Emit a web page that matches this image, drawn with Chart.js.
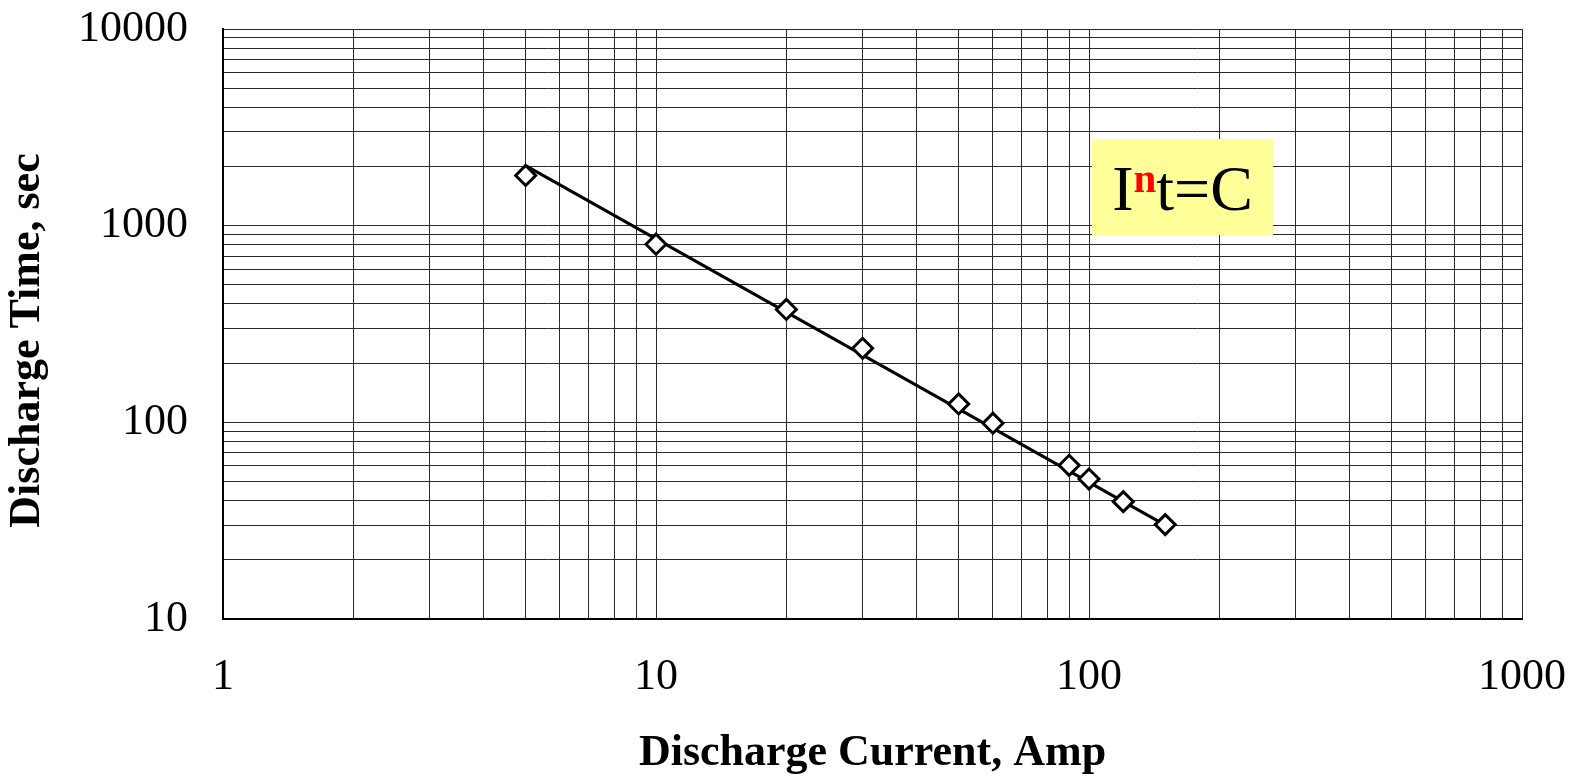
<!DOCTYPE html>
<html>
<head>
<meta charset="utf-8">
<script src="https://cdn.jsdelivr.net/npm/chart.js@4/dist/chart.umd.min.js"></script>
<style>
  html, body { margin: 0; padding: 0; background: #fff; }
  #wrap { width: 1573px; height: 778px; position: relative; }
</style>
</head>
<body>
<div id="wrap"><canvas id="c"></canvas></div>
<script>
// ---- data ----
const currents = [5, 10, 20, 30, 50, 60, 90, 100, 120, 150];          // Amp
const times    = [1800, 805, 375, 238, 124, 99, 60.5, 51.5, 39.5, 30.2]; // sec
// power-law trend line end points (I^n t = C)
const trendCurrents = [5, 150];
const trendTimes    = [2020, 30];

// axis ticks
const xMajorTicks = [1, 10, 100, 1000];
const yMajorTicks = [10, 100, 1000, 10000];
const minorMultipliers = [2, 3, 4, 5, 6, 7, 8, 9];
const xTickLabels = ['1', '10', '100', '1000'];
const yTickLabels = ['10', '100', '1000', '10000'];

const xTitle = 'Discharge Current, Amp';
const yTitle = 'Discharge Time, sec   ';

// annotation box (data coordinates) and its text
const noteBox = { xMin: 101.6, xMax: 266, yMin: 896, yMax: 2758 };
const noteParts = [
  { text: 'I', color: '#000000', font: '64px "Liberation Serif"', rise: 0 },
  { text: 'n', color: '#FF0000', font: 'bold 41px "Liberation Serif"', rise: 18 },
  { text: 't=C', color: '#000000', font: '64px "Liberation Serif"', rise: 0 }
];

function gridValues(majors) {
  const vals = [];
  for (let i = 0; i < majors.length; i++) {
    vals.push(majors[i]);
    if (i < majors.length - 1) {
      minorMultipliers.forEach(m => vals.push(majors[i] * m));
    }
  }
  return vals;
}
const xGrid = gridValues(xMajorTicks);
const yGrid = gridValues(yMajorTicks);

const noteBoxPlugin = {
  id: 'noteBox',
  afterDatasetsDraw(chart) {
    const { ctx, scales: { x, y } } = chart;
    const left = x.getPixelForValue(noteBox.xMin);
    const right = x.getPixelForValue(noteBox.xMax);
    const top = y.getPixelForValue(noteBox.yMax);
    const bottom = y.getPixelForValue(noteBox.yMin);
    ctx.save();
    ctx.fillStyle = '#FFFF99';
    ctx.fillRect(left, top, right - left, bottom - top);
    let total = 0;
    const widths = noteParts.map(p => { ctx.font = p.font; const w = ctx.measureText(p.text).width; total += w; return w; });
    let cx = (left + right) / 2 - total / 2;
    const baseline = top + (bottom - top) * 0.74;
    ctx.textBaseline = 'alphabetic';
    ctx.textAlign = 'left';
    noteParts.forEach((p, i) => {
      ctx.font = p.font;
      ctx.fillStyle = p.color;
      ctx.fillText(p.text, cx, baseline - p.rise);
      cx += widths[i];
    });
    ctx.restore();
  }
};

Chart.defaults.font.family = '"Liberation Serif", "Times New Roman", serif';
Chart.defaults.color = '#000';

new Chart(document.getElementById('c'), {
  type: 'scatter',
  data: {
    datasets: [
      {
        label: 'Measured',
        data: currents.map((c, i) => ({ x: c, y: times[i] })),
        showLine: false,
        pointStyle: 'rectRot',
        pointRadius: 10,
        pointHoverRadius: 10,
        pointBorderWidth: 3,
        pointBackgroundColor: '#ffffff',
        pointBorderColor: '#000000',
        order: 0
      },
      {
        label: 'Trend',
        type: 'line',
        data: trendCurrents.map((c, i) => ({ x: c, y: trendTimes[i] })),
        borderColor: '#000000',
        borderWidth: 3,
        pointRadius: 0,
        fill: false,
        tension: 0,
        order: 1
      }
    ]
  },
  options: {
    responsive: true,
    maintainAspectRatio: false,
    animation: false,
    layout: { padding: { top: 29, right: 51, left: 0, bottom: 0 } },
    plugins: { legend: { display: false }, tooltip: { enabled: false } },
    scales: {
      x: {
        type: 'logarithmic',
        min: 1, max: 1000,
        afterBuildTicks: s => { s.ticks = xGrid.map(v => ({ value: v })); },
        afterFit: s => { s.height = 159; s.paddingLeft = 0; s.paddingRight = 0; },
        grid: { color: '#2a2a2a', lineWidth: 1, drawTicks: false },
        border: { display: true, color: '#000000', width: 2 },
        ticks: {
          autoSkip: false, maxRotation: 0, minRotation: 0,
          padding: 32,
          font: { size: 44 },
          callback: v => { const i = xMajorTicks.indexOf(v); return i >= 0 ? xTickLabels[i] : ''; }
        },
        title: {
          display: true, text: xTitle,
          font: { size: 44, weight: 'bold', lineHeight: 1 },
          padding: { top: 0, bottom: 2 }
        }
      },
      y: {
        type: 'logarithmic',
        min: 10, max: 10000,
        afterBuildTicks: s => { s.ticks = yGrid.map(v => ({ value: v })); },
        afterFit: s => { s.width = 223; s.paddingTop = 0; s.paddingBottom = 0; },
        grid: { color: '#2a2a2a', lineWidth: 1, drawTicks: false },
        border: { display: true, color: '#000000', width: 2 },
        ticks: {
          autoSkip: false,
          padding: 35,
          font: { size: 44 },
          callback: v => { const i = yMajorTicks.indexOf(v); return i >= 0 ? yTickLabels[i] : ''; }
        },
        title: {
          display: true, text: yTitle,
          font: { size: 44, weight: 'bold', lineHeight: 1 },
          padding: { top: 6, bottom: 0 }
        }
      }
    }
  },
  plugins: [noteBoxPlugin]
});
</script>
</body>
</html>
